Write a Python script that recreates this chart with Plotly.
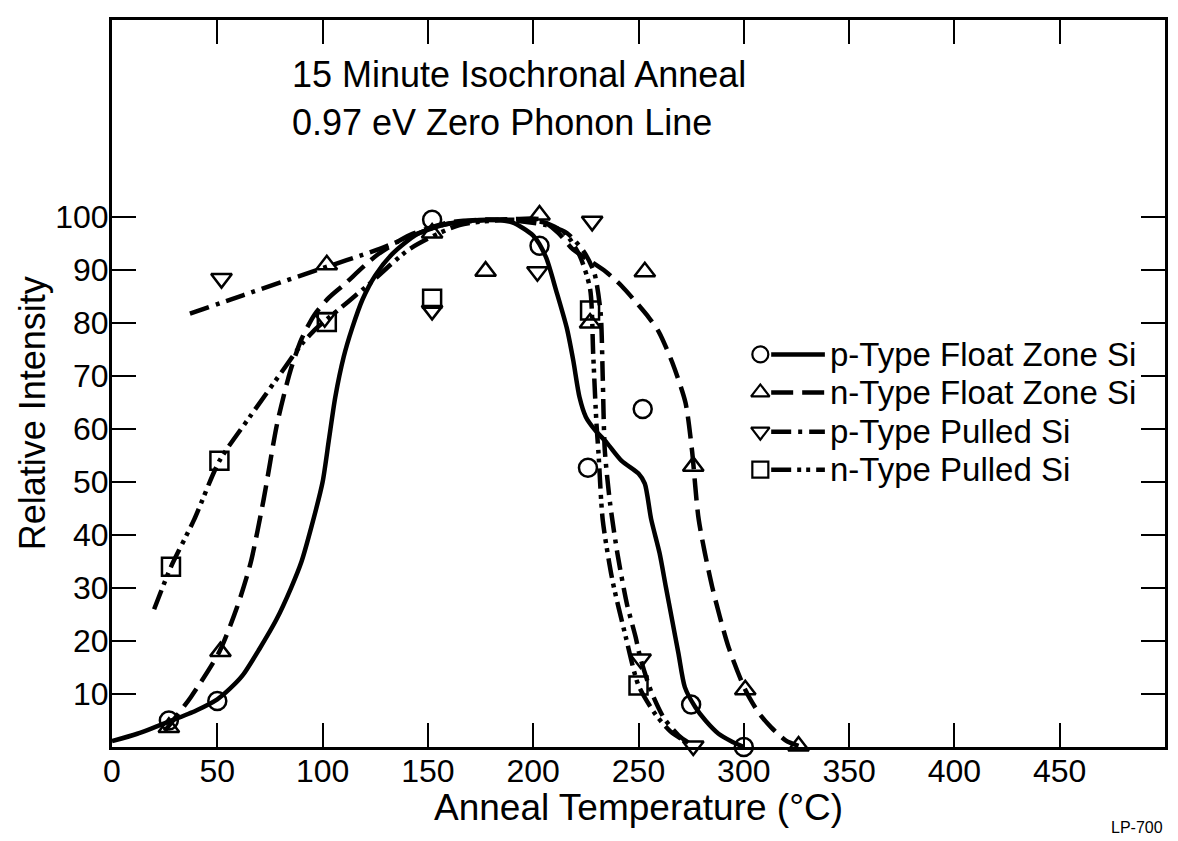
import plotly.graph_objects as go

# ---- measured points ----
pfz_x = [27, 50, 152, 203, 226, 252, 275, 300]
pfz_y = [5, 8.7, 99.5, 94.6, 52.7, 63.8, 8, 0]

nfz_x = [27, 51.5, 102, 152, 177.4, 203, 227, 253, 276, 300.7, 326]
nfz_y = [3.7, 18, 91, 97, 89.8, 100.4, 80, 89.7, 53, 10.8, 0.2]

ppl_x = [52, 101, 152, 202, 228, 251, 276]
ppl_y = [88.4, 81, 82.4, 89.7, 99.2, 16.6, 0.2]

npl_x = [28, 51, 102, 152, 227, 250]
npl_y = [34, 54, 80.2, 84.6, 82.4, 11.6]

# ---- hand-fitted curves ----
pfz_cx = [0, 12, 27, 40, 50, 56, 62, 70, 78, 85, 90, 95, 100, 103, 106, 110, 114, 119, 125,
          133, 145, 160, 178, 190, 200, 206, 211, 216, 219, 222, 225, 229, 235, 242, 250,
          253, 256, 260, 263, 266, 269, 272, 277, 282, 288, 294, 300]
pfz_cy = [1.1, 2.5, 4.8, 6.9, 9, 11, 13.5, 18.5, 24, 30, 35, 42, 50, 58, 66, 73.6, 79, 84.5,
          89, 93, 96.8, 98.8, 99.5, 99, 96.5, 92.5, 86, 79, 73, 66, 62.3, 60, 57.4, 54,
          51.6, 49.7, 43, 36.6, 30.2, 23.9, 17.6, 11.3, 7.5, 4.9, 2.5, 1.1, 0]

nfz_cx = [25, 37.4, 51, 59.4, 65.8, 72, 78.4, 84.7, 90, 96, 103, 110, 125.7, 141.4, 160,
          175, 190, 203, 212, 218.6, 226, 234.5, 242, 250, 255, 259.7, 266, 272.3, 275.4,
          278.6, 285, 292.8, 300.7, 307, 313, 320, 326]
nfz_cy = [3, 9.4, 18, 26.4, 34.7, 46.7, 61, 71, 77, 81.5, 84.8, 87.2, 92.8, 96.6, 99,
          99.5, 99.6, 99.6, 97, 94, 92, 89.7, 87, 83.4, 81, 78.3, 72.6, 65, 56, 42.9, 30.2,
          18.8, 10.8, 6.5, 3.7, 1.2, 0.2]

ppl_cx = [37, 62.5, 97.3, 125.7, 157, 185, 206, 216, 224, 229, 232, 233, 234, 236.5, 240,
          244.5, 248.6, 251, 256, 262, 269, 276]
ppl_cy = [81.8, 85.3, 90, 93.8, 98.5, 99.5, 98.5, 97, 93.5, 89.5, 82, 70, 56, 46, 36.5, 27,
          20.8, 16.6, 10.5, 5.5, 2.2, 0.2]

npl_cx = [20, 28, 39, 51, 65.8, 81.5, 90, 97, 102, 112, 122.5, 141.4, 165, 190, 205, 215,
          222, 227, 228.5, 230, 231, 233, 237.6, 244, 250, 258, 265, 272]
npl_cy = [26, 34, 42.9, 54, 62.5, 71.3, 76, 79, 80.7, 84, 87.5, 94, 98.5, 99.5, 99, 97,
          92.8, 86.5, 74, 61.3, 55.5, 42.9, 31.5, 20.7, 11.6, 6.2, 3, 1.1]

names = ["p-Type Float Zone Si", "n-Type Float Zone Si", "p-Type Pulled Si", "n-Type Pulled Si"]
symbols = ["circle-open", "triangle-up-open", "triangle-down-open", "square-open"]
dashes = ["solid", "22px,9px", "20px,7px,4px,7px", "20px,6px,4px,5px,4px,6px"]

x_ticks = [0, 50, 100, 150, 200, 250, 300, 350, 400, 450]
y_ticks = [10, 20, 30, 40, 50, 60, 70, 80, 90, 100]

FONT = "Liberation Sans"
INK = "black"

series = [
    (pfz_x, pfz_y, pfz_cx, pfz_cy),
    (nfz_x, nfz_y, nfz_cx, nfz_cy),
    (ppl_x, ppl_y, ppl_cx, ppl_cy),
    (npl_x, npl_y, npl_cx, npl_cy),
]

fig = go.Figure()

for (px, py, cx, cy), name, sym, dash in zip(series, names, symbols, dashes):
    fig.add_trace(go.Scatter(
        x=cx, y=cy, mode="lines", name=name, showlegend=False,
        line=dict(color=INK, width=4.5, dash=dash, shape="spline", smoothing=0.7),
        hoverinfo="skip", cliponaxis=False,
    ))
for (px, py, cx, cy), name, sym, dash in zip(series, names, symbols, dashes):
    fig.add_trace(go.Scatter(
        x=px, y=py, mode="markers", name=name, showlegend=False,
        marker=dict(symbol=sym, size=18, color=INK, line=dict(width=2.5, color=INK)),
        cliponaxis=False,
    ))

# key drawn on an overlay axis spanning the plot area
key_rows = [0.540, 0.4877, 0.4338, 0.3814]
key_marker_x = 0.6157
key_line = [0.626, 0.677]
key_text_x = 0.680
for row, name, sym, dash in zip(key_rows, names, symbols, dashes):
    fig.add_trace(go.Scatter(
        x=key_line, y=[row, row], mode="lines", xaxis="x2", yaxis="y2",
        showlegend=False, hoverinfo="skip",
        line=dict(color=INK, width=4.5, dash=dash),
    ))
    fig.add_trace(go.Scatter(
        x=[key_marker_x], y=[row], mode="markers", xaxis="x2", yaxis="y2",
        showlegend=False, hoverinfo="skip",
        marker=dict(symbol=sym, size=16, color=INK, line=dict(width=2.2, color=INK)),
    ))
    fig.add_annotation(
        x=key_text_x, y=row, xref="paper", yref="paper", text=name,
        showarrow=False, xanchor="left", yanchor="middle",
        font=dict(family=FONT, size=33, color=INK),
    )

axis_common = dict(
    showline=True, linewidth=3, linecolor=INK, mirror="ticks",
    ticks="inside", ticklen=24, tickwidth=2, tickcolor=INK,
    showgrid=False, zeroline=False, ticklabelposition="outside",
    tickfont=dict(family=FONT, size=32, color=INK),
)

fig.update_layout(
    width=1178, height=841,
    margin=dict(l=112, r=10, t=20, b=94),
    paper_bgcolor="white", plot_bgcolor="white",
    font=dict(family=FONT, color=INK),
    xaxis=dict(
        range=[0, 500], tickvals=x_ticks, ticktext=[str(v) for v in x_ticks],
        ticklabelstandoff=-6,
        **axis_common,
    ),
    yaxis=dict(
        range=[0, 137.2], tickvals=y_ticks, ticktext=[str(v) for v in y_ticks],
        ticklabelstandoff=-6,
        **axis_common,
    ),
    xaxis2=dict(range=[0, 1], overlaying="x", anchor="y2", visible=False, fixedrange=True),
    yaxis2=dict(range=[0, 1], overlaying="y", anchor="x2", visible=False, fixedrange=True),
)

# axis titles
fig.add_annotation(
    x=0.5, y=-0.083, xref="paper", yref="paper", text="Anneal Temperature (°C)",
    showarrow=False, xanchor="center", yanchor="middle",
    font=dict(family=FONT, size=37, color=INK),
)
fig.add_annotation(
    x=-0.076, y=0.459, xref="paper", yref="paper", text="Relative Intensity",
    showarrow=False, xanchor="center", yanchor="middle", textangle=-90,
    font=dict(family=FONT, size=36, color=INK),
)

fig.add_annotation(
    x=0.1688, y=0.9257, xref="paper", yref="paper", text="15 Minute Isochronal Anneal",
    showarrow=False, xanchor="left", yanchor="middle",
    font=dict(family=FONT, size=36, color=INK),
)
fig.add_annotation(
    x=0.1688, y=0.8596, xref="paper", yref="paper", text="0.97 eV Zero Phonon Line",
    showarrow=False, xanchor="left", yanchor="middle",
    font=dict(family=FONT, size=36, color=INK),
)
fig.add_annotation(
    x=1.0, y=-0.111, xref="paper", yref="paper", text="LP-700",
    showarrow=False, xanchor="right", yanchor="middle",
    font=dict(family=FONT, size=16, color=INK),
)

fig.write_html("out.html")
